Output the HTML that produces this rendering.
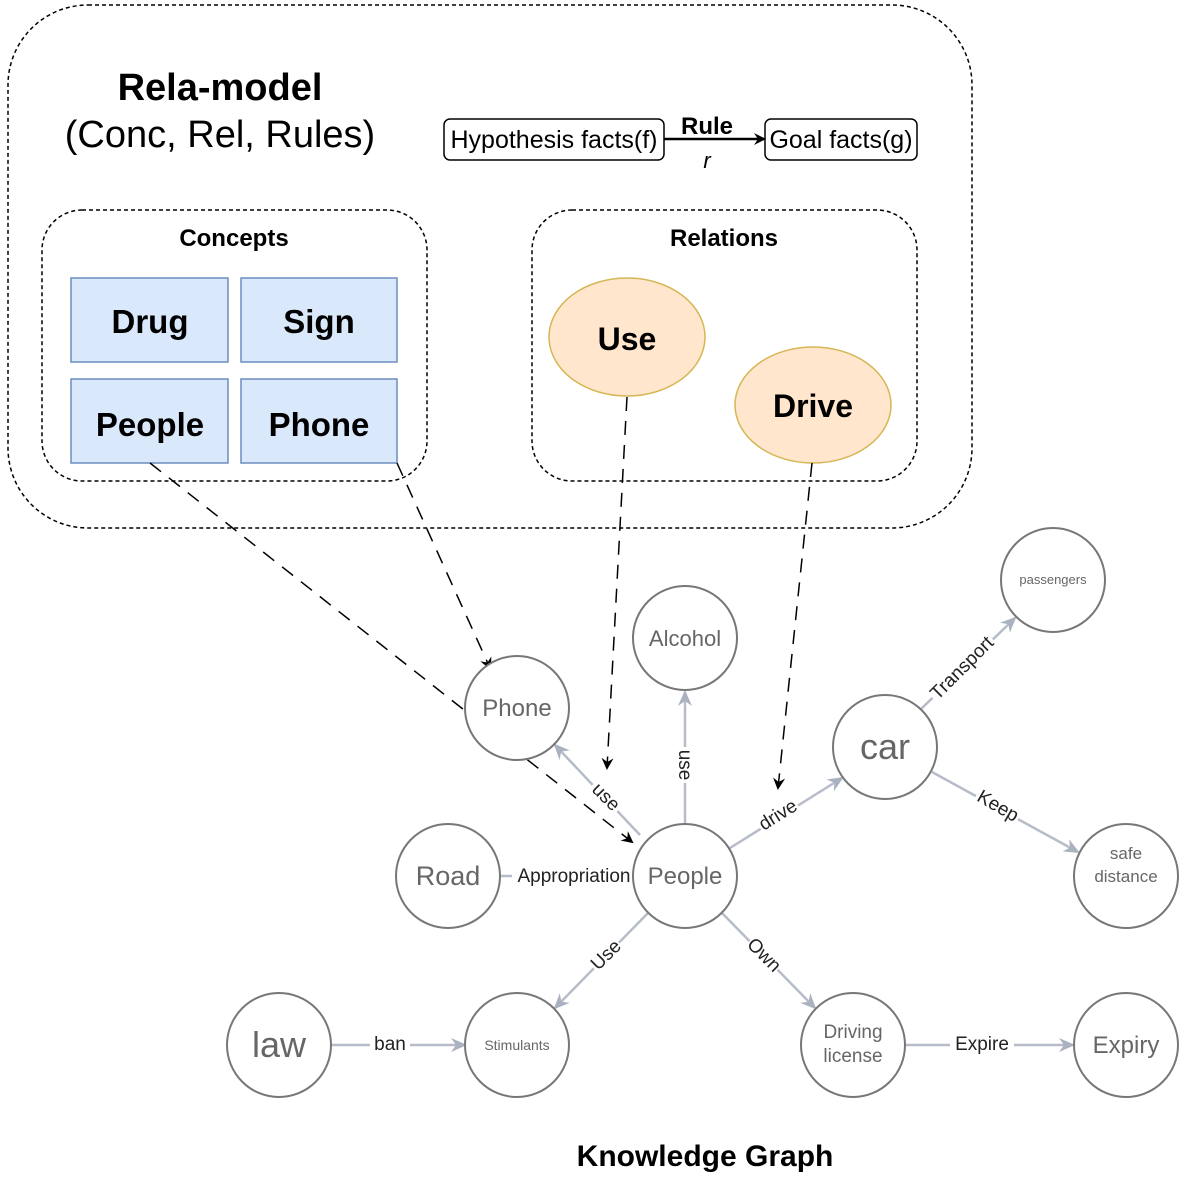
<!DOCTYPE html>
<html><head><meta charset="utf-8"><style>body{margin:0;background:#fff}svg{display:block}text{font-family:"Liberation Sans",sans-serif}</style></head>
<body>
<svg width="1188" height="1187" viewBox="0 0 1188 1187" xmlns="http://www.w3.org/2000/svg">
<defs>
<marker id="ab" markerWidth="12" markerHeight="12" refX="10" refY="6" orient="auto" markerUnits="userSpaceOnUse"><path d="M0,0 L12,6 L0,12 L4,6 Z" fill="#000"/></marker>
<marker id="ag" markerWidth="16" markerHeight="14" refX="14" refY="7" orient="auto" markerUnits="userSpaceOnUse"><path d="M0,0 L16,7 L0,14 L5,7 Z" fill="#aab2c0"/></marker>
</defs>
<g fill="none" stroke="#000" stroke-width="1.5" stroke-dasharray="4,3">
<rect x="8" y="5" width="964" height="523" rx="80"/>
<rect x="42" y="210" width="385" height="271" rx="40"/>
<rect x="532" y="210" width="385" height="271" rx="40"/>
</g>
<text x="220" y="100" font-size="38" font-weight="bold" text-anchor="middle">Rela-model</text>
<text x="220" y="147" font-size="38" text-anchor="middle">(Conc, Rel, Rules)</text>
<rect x="444" y="119" width="220" height="41" rx="6" fill="#fff" stroke="#000" stroke-width="1.5"/>
<text x="554" y="148" font-size="25" text-anchor="middle">Hypothesis facts(f)</text>
<rect x="765" y="119" width="152" height="41" rx="6" fill="#fff" stroke="#000" stroke-width="1.5"/>
<text x="841" y="148" font-size="25" text-anchor="middle">Goal facts(g)</text>
<line x1="664" y1="139" x2="764" y2="139" stroke="#000" stroke-width="2.5" marker-end="url(#ab)"/>
<text x="707" y="134" font-size="24" font-weight="bold" text-anchor="middle">Rule</text>
<text x="707" y="168" font-size="22" font-style="italic" text-anchor="middle">r</text>
<text x="234" y="246" font-size="24" font-weight="bold" text-anchor="middle">Concepts</text>
<text x="724" y="246" font-size="24" font-weight="bold" text-anchor="middle">Relations</text>
<g fill="#dae8fc" stroke="#6c8ebf" stroke-width="1.5">
<rect x="71" y="278" width="157" height="84"/><rect x="241" y="278" width="156" height="84"/>
<rect x="71" y="379" width="157" height="84"/><rect x="241" y="379" width="156" height="84"/>
</g>
<g font-size="33" font-weight="bold" text-anchor="middle">
<text x="150" y="333">Drug</text><text x="319" y="333">Sign</text>
<text x="150" y="436">People</text><text x="319" y="436">Phone</text>
</g>
<ellipse cx="627" cy="337" rx="78" ry="59" fill="#ffe6cc" stroke="#d6b656" stroke-width="1.5"/>
<ellipse cx="813" cy="405" rx="78" ry="58" fill="#ffe6cc" stroke="#d6b656" stroke-width="1.5"/>
<text x="627" y="350" font-size="32" font-weight="bold" text-anchor="middle">Use</text>
<text x="813" y="417" font-size="32" font-weight="bold" text-anchor="middle">Drive</text>
<g stroke="#000" stroke-width="1.5" stroke-dasharray="14,10" fill="none">
<line x1="150" y1="463" x2="632" y2="842" marker-end="url(#ab)"/>
<line x1="397" y1="463" x2="490" y2="668" marker-end="url(#ab)"/>
<line x1="627" y1="397" x2="607" y2="768" marker-end="url(#ab)"/>
<line x1="812" y1="463" x2="778" y2="788" marker-end="url(#ab)"/>
</g>
<g stroke="#b6bcc8" stroke-width="2.5" fill="none">
<line x1="640" y1="835" x2="555" y2="745" marker-end="url(#ag)"/>
<line x1="685" y1="824" x2="685" y2="692" marker-end="url(#ag)"/>
<line x1="730" y1="848" x2="842" y2="778" marker-end="url(#ag)"/>
<line x1="920" y1="710" x2="1015" y2="618" marker-end="url(#ag)"/>
<line x1="932" y1="772" x2="1078" y2="852" marker-end="url(#ag)"/>
<line x1="500" y1="876" x2="633" y2="876"/>
<line x1="648" y1="913" x2="555" y2="1008" marker-end="url(#ag)"/>
<line x1="722" y1="913" x2="815" y2="1008" marker-end="url(#ag)"/>
<line x1="331" y1="1045" x2="465" y2="1045" marker-end="url(#ag)"/>
<line x1="905" y1="1045" x2="1073" y2="1045" marker-end="url(#ag)"/>
</g>
<g fill="#fff" stroke="#777" stroke-width="2">
<circle cx="517" cy="708" r="52"/><circle cx="685" cy="638" r="52"/><circle cx="885" cy="747" r="52"/>
<circle cx="1053" cy="580" r="52"/><circle cx="448" cy="876" r="52"/><circle cx="685" cy="876" r="52"/>
<circle cx="1126" cy="876" r="52"/><circle cx="279" cy="1045" r="52"/><circle cx="517" cy="1045" r="52"/>
<circle cx="853" cy="1045" r="52"/><circle cx="1126" cy="1045" r="52"/>
</g>
<g fill="#666" text-anchor="middle">
<text x="517" y="716" font-size="24">Phone</text>
<text x="685" y="646" font-size="22">Alcohol</text>
<text x="885" y="759" font-size="36">car</text>
<text x="1053" y="584" font-size="13">passengers</text>
<text x="448" y="885" font-size="27">Road</text>
<text x="685" y="884" font-size="24">People</text>
<text x="1126" y="859" font-size="17">safe</text>
<text x="1126" y="882" font-size="17">distance</text>
<text x="279" y="1057" font-size="36">law</text>
<text x="517" y="1050" font-size="14">Stimulants</text>
<text x="853" y="1038" font-size="19">Driving</text>
<text x="853" y="1062" font-size="19">license</text>
<text x="1126" y="1053" font-size="24">Expiry</text>
</g>
<g fill="#222" font-size="19" text-anchor="middle">
<rect x="512" y="862" width="120" height="26" fill="#fff"/>
<text x="574" y="882">Appropriation</text>
<rect x="370" y="1032" width="40" height="24" fill="#fff"/>
<text x="390" y="1050">ban</text>
<rect x="950" y="1032" width="64" height="24" fill="#fff"/>
<text x="982" y="1050">Expire</text>
<g transform="translate(606,797) rotate(45)"><rect x="-18" y="-13" width="36" height="24" fill="#fff"/><text y="6">use</text></g>
<g transform="translate(685,765) rotate(90)"><rect x="-18" y="-13" width="36" height="24" fill="#fff"/><text y="6">use</text></g>
<g transform="translate(778,815) rotate(-32)"><rect x="-22" y="-13" width="44" height="24" fill="#fff"/><text y="6">drive</text></g>
<g transform="translate(962,668) rotate(-45)"><rect x="-42" y="-13" width="84" height="24" fill="#fff"/><text y="6">Transport</text></g>
<g transform="translate(998,806) rotate(30)"><rect x="-24" y="-13" width="48" height="24" fill="#fff"/><text y="6">Keep</text></g>
<g transform="translate(606,955) rotate(-45)"><rect x="-18" y="-13" width="36" height="24" fill="#fff"/><text y="6">Use</text></g>
<g transform="translate(764,955) rotate(45)"><rect x="-20" y="-13" width="40" height="24" fill="#fff"/><text y="6">Own</text></g>
</g>
<text x="705" y="1166" font-size="30" font-weight="bold" text-anchor="middle">Knowledge Graph</text>
</svg>
</body></html>
